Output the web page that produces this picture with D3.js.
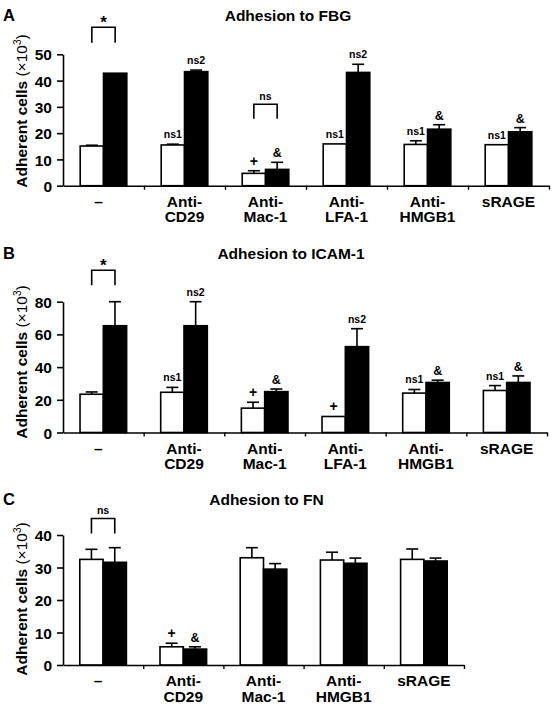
<!DOCTYPE html>
<html>
<head>
<meta charset="utf-8">
<script src="https://cdn.jsdelivr.net/npm/d3@7"></script>
<style>
  html, body { margin: 0; padding: 0; background: #fff; }
  svg { display: block; font-family: "Liberation Sans", Arial, Helvetica, sans-serif; }
</style>
</head>
<body>
<svg id="chart" width="552" height="710"></svg>
<script>
// ---------------- DATA ----------------
const seriesNames = ["Control", "Treated"];

// Panel A: Adhesion to FBG
const categoriesA = ["–", "Anti-\nCD29", "Anti-\nMac-1", "Anti-\nLFA-1", "Anti-\nHMGB1", "sRAGE"];
const whiteA    = [15.1, 15.5, 4.7, 15.9, 15.7, 15.6];
const whiteErrA = [0.3, 0.3, 1.0, 0, 1.4, 0];
const blackA    = [42.8, 43.4, 6.2, 43.1, 21.5, 20.5];
const blackErrA = [0, 0.6, 2.7, 3.1, 1.7, 1.6];
const ticksA    = [0, 10, 20, 30, 40, 50];
const marksA = [
  {cat: 1, s: 0, text: "ns1"}, {cat: 1, s: 1, text: "ns2"},
  {cat: 2, s: 0, text: "+"},   {cat: 2, s: 1, text: "&"},
  {cat: 3, s: 0, text: "ns1"}, {cat: 3, s: 1, text: "ns2"},
  {cat: 4, s: 0, text: "ns1"}, {cat: 4, s: 1, text: "&"},
  {cat: 5, s: 0, text: "ns1"}, {cat: 5, s: 1, text: "&"}
];
const bracketsA = [
  {cat: 0, top: 60.3, bottom: 54.4, text: "*"},
  {cat: 2, top: 31.0, bottom: 25.5, text: "ns"}
];

// Panel B: Adhesion to ICAM-1
const categoriesB = ["–", "Anti-\nCD29", "Anti-\nMac-1", "Anti-\nLFA-1", "Anti-\nHMGB1", "sRAGE"];
const whiteB    = [23.4, 24.6, 14.9, 9.8, 24.1, 25.7];
const whiteErrB = [1.4, 3.0, 3.6, 0, 2.2, 3.0];
const blackB    = [65.3, 65.3, 25.0, 52.5, 30.6, 30.6];
const blackErrB = [14.7, 14.7, 1.6, 11.0, 1.4, 4.0];
const ticksB    = [0, 20, 40, 60, 80];
const marksB = [
  {cat: 1, s: 0, text: "ns1"}, {cat: 1, s: 1, text: "ns2"},
  {cat: 2, s: 0, text: "+"},   {cat: 2, s: 1, text: "&"},
  {cat: 3, s: 0, text: "+"},   {cat: 3, s: 1, text: "ns2"},
  {cat: 4, s: 0, text: "ns1"}, {cat: 4, s: 1, text: "&"},
  {cat: 5, s: 0, text: "ns1"}, {cat: 5, s: 1, text: "&"}
];
const bracketsB = [
  {cat: 0, top: 99.2, bottom: 90.0, text: "*"}
];

// Panel C: Adhesion to FN
const categoriesC = ["–", "Anti-\nCD29", "Anti-\nMac-1", "Anti-\nHMGB1", "sRAGE"];
const whiteC    = [32.5, 5.6, 33.0, 32.3, 32.5];
const whiteErrC = [3.1, 1.1, 3.1, 2.4, 3.2];
const blackC    = [31.6, 4.9, 29.5, 31.3, 32.0];
const blackErrC = [4.5, 0.7, 1.7, 1.6, 0.9];
const ticksC    = [0, 10, 20, 30, 40];
const marksC = [
  {cat: 1, s: 0, text: "+"}, {cat: 1, s: 1, text: "&"}
];
const bracketsC = [
  {cat: 0, top: 45.1, bottom: 40.5, text: "ns"}
];

// ---------------- LAYOUT ----------------
const panels = [
  {letter: "A", title: "Adhesion to FBG", titleX: 288, headY: 21,
   cats: categoriesA, vals: [whiteA, blackA], errs: [whiteErrA, blackErrA], ticks: ticksA,
   marks: marksA, brackets: bracketsA, y0: 185.7, yTop: 54.3, xEnd: 549, labelY: 111},
  {letter: "B", title: "Adhesion to ICAM-1", titleX: 291, headY: 259,
   cats: categoriesB, vals: [whiteB, blackB], errs: [whiteErrB, blackErrB], ticks: ticksB,
   marks: marksB, brackets: bracketsB, y0: 432.5, yTop: 301.7, xEnd: 547, labelY: 362},
  {letter: "C", title: "Adhesion to FN", titleX: 266.5, headY: 505,
   cats: categoriesC, vals: [whiteC, blackC], errs: [whiteErrC, blackErrC], ticks: ticksC,
   marks: marksC, brackets: bracketsC, y0: 665, yTop: 535, xEnd: 464, labelY: 599}
];

const xStart = 63;
const pairWidth = 46.6;
const fills = ["#ffffff", "#000000"];

const svg = d3.select("#chart");

panels.forEach(p => {
  const g = svg.append("g");
  const yMax = p.ticks[p.ticks.length - 1];
  const y = d3.scaleLinear().domain([0, yMax]).range([p.y0, p.yTop]);
  const x0 = d3.scaleBand().domain(d3.range(p.cats.length)).range([xStart, p.xEnd]).padding(0);
  const bw = x0.bandwidth();
  const x1 = d3.scaleBand().domain([0, 1]).range([(bw - pairWidth) / 2, (bw + pairWidth) / 2]).padding(0);
  const xb = d3.scaleLinear().domain([0, p.cats.length]).range([xStart, p.xEnd]);

  // panel letter & title
  g.append("text").attr("x", 3).attr("y", p.headY)
    .attr("font-size", 16.5).attr("font-weight", "bold").text(p.letter);
  g.append("text").attr("x", p.titleX).attr("y", p.headY)
    .attr("text-anchor", "middle").attr("font-size", 15.5).attr("font-weight", "bold").text(p.title);

  // y axis label
  const yl = g.append("text")
    .attr("transform", `translate(27,${p.labelY}) rotate(-90)`)
    .attr("text-anchor", "middle").attr("font-size", 15.5);
  yl.append("tspan").attr("font-weight", "bold").text("Adherent cells ");
  yl.append("tspan").text("(×10");
  yl.append("tspan").attr("font-size", 10).attr("dy", -6).text("3");
  yl.append("tspan").attr("dy", 6).text(")");

  // bars
  const rows = [];
  p.cats.forEach((c, i) => {
    [0, 1].forEach(s => rows.push({i, s, v: p.vals[s][i], e: p.errs[s][i]}));
  });

  // error bars (drawn before bars so the stem hides inside the bar)
  const eg = g.append("g").attr("stroke", "#000").attr("stroke-width", 1.6).attr("fill", "none");
  rows.filter(d => d.e > 0).forEach(d => {
    const cx = x0(d.i) + x1(d.s) + x1.bandwidth() / 2;
    eg.append("line").attr("x1", cx).attr("x2", cx).attr("y1", y(d.v)).attr("y2", y(d.v + d.e));
    eg.append("line").attr("x1", cx - 6).attr("x2", cx + 6).attr("y1", y(d.v + d.e)).attr("y2", y(d.v + d.e));
  });

  g.append("g").selectAll("rect").data(rows).join("rect")
    .attr("x", d => x0(d.i) + x1(d.s))
    .attr("y", d => y(d.v))
    .attr("width", x1.bandwidth())
    .attr("height", d => y(0) - y(d.v))
    .attr("fill", d => fills[d.s])
    .attr("stroke", "#000").attr("stroke-width", 1.6);

  // y axis
  const ya = g.append("g").attr("transform", `translate(${xStart},0)`)
    .call(d3.axisLeft(y).tickValues(p.ticks).tickSize(6).tickSizeOuter(0).tickPadding(5));
  ya.select(".domain").attr("stroke-width", 1.6);
  ya.selectAll(".tick line").attr("stroke-width", 1.6);
  ya.selectAll(".tick text").attr("font-size", 15.5).attr("font-weight", "bold")
    .attr("font-family", "Liberation Sans, Arial, sans-serif").attr("dy", "0.36em");

  // x axis
  const xa = g.append("g").attr("transform", `translate(0,${p.y0})`)
    .call(d3.axisBottom(xb).tickValues(d3.range(1, p.cats.length + 1)).tickSize(4).tickSizeOuter(0).tickFormat(""));
  xa.select(".domain").attr("stroke-width", 1.6);
  xa.selectAll(".tick line").attr("stroke-width", 1.4);

  // category labels
  p.cats.forEach((c, i) => {
    const cx = x0(i) + bw / 2;
    const lines = c.split("\n");
    const t = g.append("text").attr("text-anchor", "middle")
      .attr("font-size", 15.5).attr("font-weight", "bold");
    lines.forEach((ln, k) => {
      t.append("tspan").attr("x", ln === "–" ? cx - 5 : cx)
        .attr("y", p.y0 + 21 + k * 15.5).text(ln);
    });
  });

  // annotation marks above bars
  p.marks.forEach(m => {
    const v = p.vals[m.s][m.cat] + p.errs[m.s][m.cat];
    const cx = x0(m.cat) + x1(m.s) + x1.bandwidth() / 2;
    const isSym = (m.text === "+" || m.text === "&");
    g.append("text").attr("x", cx).attr("y", y(v) - (isSym ? 5 : 6))
      .attr("text-anchor", "middle").attr("font-weight", "bold")
      .attr("font-size", m.text === "+" ? 14 : (m.text === "&" ? 12.5 : 10.5))
      .text(m.text);
  });

  // brackets
  p.brackets.forEach(b => {
    const xa0 = x0(b.cat) + x1(0) + x1.bandwidth() / 2;
    const xa1 = x0(b.cat) + x1(1) + x1.bandwidth() / 2;
    g.append("path")
      .attr("d", `M${xa0},${y(b.bottom)}V${y(b.top)}H${xa1}V${y(b.bottom)}`)
      .attr("fill", "none").attr("stroke", "#000").attr("stroke-width", 1.6);
    const star = b.text === "*";
    g.append("text").attr("x", (xa0 + xa1) / 2).attr("y", y(b.top) + (star ? 1 : -4))
      .attr("text-anchor", "middle").attr("font-weight", "bold")
      .attr("font-size", star ? 17 : 10.5).text(b.text);
  });
});
</script>
</body>
</html>
